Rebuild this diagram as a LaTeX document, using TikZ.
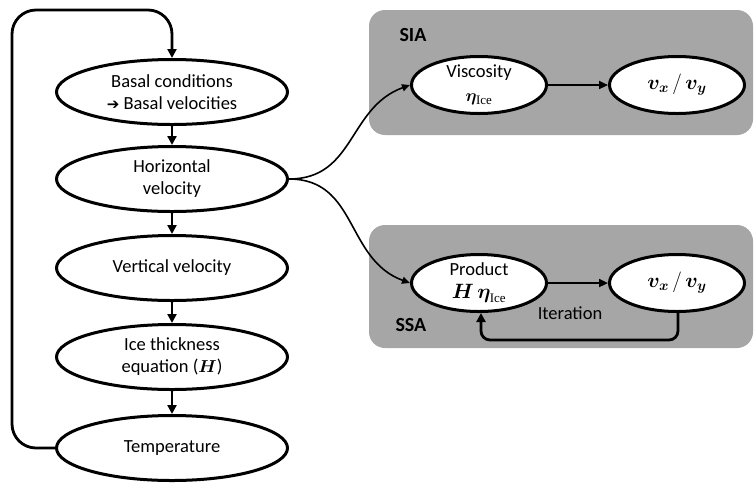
\documentclass[tikz,border=0pt]{standalone}
\usepackage{fontspec}
\usepackage{bm}
\setmainfont{Carlito}
\newfontfamily\dejavu{DejaVu Sans}
\newfontfamily\tnr{Liberation Serif}
\usetikzlibrary{shapes.geometric,arrows.meta}
\definecolor{boxgray}{HTML}{A6A6A6}
\newcommand{\etaice}{\bm{\eta}_{\hbox{\tnr\fontsize{13}{13}\selectfont Ice}}}
\begin{document}
\begin{tikzpicture}[x=1pt,y=-1pt,
  lell/.style={ellipse, draw, line width=3pt, fill=white, minimum width=231pt, minimum height=65pt, inner sep=0pt, align=center, font=\fontsize{18.5}{22}\selectfont},
  rell/.style={ellipse, draw, line width=3pt, fill=white, minimum width=135pt, minimum height=57pt, inner sep=0pt, align=center, font=\fontsize{18.5}{22}\selectfont},
  grp/.style={fill=boxgray, rounded corners=16pt},
  arr/.style={-{Triangle[length=9pt,width=9pt]}, line width=2.8pt},
  harr/.style={-{Triangle[length=9pt,width=8pt]}, line width=2.2pt},
  carr/.style={-{Triangle[length=8pt,width=7pt]}, line width=1.6pt},
  lbl/.style={font=\fontsize{18.5}{22}\selectfont},
  blbl/.style={font=\fontsize{20}{22}\selectfont\bfseries, anchor=west}
]
\useasboundingbox (0,0) rectangle (755,483);
% gray groups
\fill[grp] (369,10) rectangle (753,135);
\fill[grp] (369,225) rectangle (753,348);
\node[blbl] (sia) at (396,35) {SIA};
\node[blbl] (ssa) at (392,325) {SSA};
% left column
\node[lell] (basal) at (172,92) {Basal conditions\\{\dejavu\bfseries\fontsize{15}{15}\selectfont ➔} Basal velocities};
\node[lell] (horiz) at (172,179) {Horizontal\\velocity};
\node[lell] (vert) at (172,268) {Vertical velocity};
\node[lell] (ice) at (172,357) {Ice thickness\\equation ($\bm{H}$)};
\node[lell] (temp) at (172,448) {Temperature};
\draw[arr] (basal) -- (horiz);
\draw[arr] (horiz) -- (vert);
\draw[arr] (vert) -- (ice);
\draw[arr] (ice) -- (temp);
\coordinate (lb) at (12,448);
\coordinate (lt) at (12,10);
\coordinate (rt) at (172,10);
\draw[arr, rounded corners=24pt] (temp.west) -- (lb) -- (lt) -- (rt) -- (basal.north);
% right side
\node[rell] (visc) at (479,85) {Viscosity\\[2pt]$\etaice$};
\node[rell] (vx1) at (677,85) {\fontsize{22}{22}\selectfont$\bm{v_x}\,/\,\bm{v_y}$};
\node[rell] (prod) at (479,283) {Product\\[1pt]\fontsize{22}{22}\selectfont$\bm{H}\,\etaice$};
\node[rell] (vx2) at (677,283) {\fontsize{22}{22}\selectfont$\bm{v_x}\,/\,\bm{v_y}$};
\draw[harr] (visc) -- (vx1);
\draw[harr] (prod) -- (vx2);
\draw[carr] (horiz.east) to[out=0, in=200, looseness=1.1] (visc.west);
\draw[carr] (horiz.east) to[out=0, in=160, looseness=1.1] (prod.west);
\coordinate (ir) at (678,340);
\coordinate (il) at (481,340);
\draw[arr, rounded corners=9pt] (vx2.south -| ir) -- (ir) -- (il) -- (prod.south -| il);
\node[lbl] (iter) at (570,313) {Iteration};
\end{tikzpicture}
\end{document}
